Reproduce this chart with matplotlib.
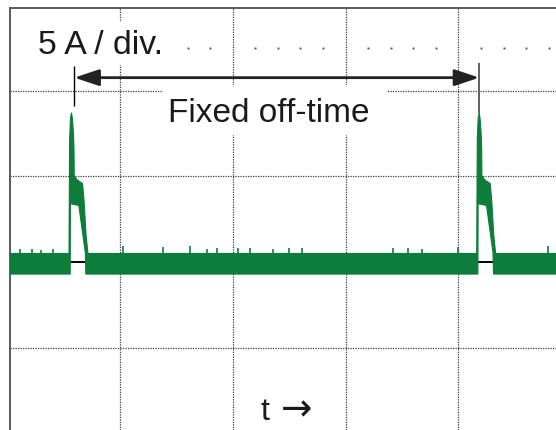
"""
Oscilloscope-style current trace: fixed off-time pulses, saved as out.png.
"""

import numpy as np
import matplotlib
matplotlib.use("Agg")
import matplotlib.pyplot as plt
import matplotlib.patches as mpatches

# ── data (time in divisions, current in A; 5 A / div) ─────────────────────────
pulse_starts = [0.548, 4.162]          # rising edge of each current pulse
base_hi = 0.5                           # top of the noise band on the baseline
base_lo = -0.7                          # bottom of the noise band

# outer edge of one pulse (offset from its start, current)
pulse_outer_dt = [0.0, 0.0053, 0.0133, 0.0222, 0.031, 0.040, 0.0443, 0.046,
                  0.071, 0.120, 0.133, 0.151, 0.168]
pulse_outer_i = [0.5, 7.14, 8.42, 8.71, 8.30, 7.43, 6.55, 5.04,
                 4.80, 4.57, 3.6, 1.6, 0.5]
# inner edge (the hollow part under the pulse)
pulse_inner_dt = [0.0106, 0.0124, 0.087, 0.1445, 0.149]
pulse_inner_i = [-0.7, 3.4, 3.3, 0.55, -0.7]

# small upward glitches on the baseline band
glitch_t = [0.113, 0.220, 0.300, 0.406, 1.027, 1.381, 1.621, 1.771, 1.860, 2.046,
            2.152, 2.356, 2.498, 2.613, 3.420, 3.553, 3.678, 3.997, 4.794]
glitch_i = [0.75, 0.75, 0.7, 0.75, 0.95, 0.9, 0.95, 0.75, 0.8, 0.8,
            0.8, 0.75, 0.8, 0.8, 0.8, 0.8, 0.75, 0.85, 0.95]

major_t = [1, 2, 3, 4]
major_i = [-5, 5, 10]

T_MIN, T_MAX = 0.0204, 4.865
I_MIN, I_MAX = -9.79, 14.84

GREEN = "#0e7c3a"
INK = "#1a1a1a"
GRID = "#3a3a3a"
W, H = 556, 430

fig = plt.figure(figsize=(W / 100, H / 100), dpi=100, facecolor="white")
ax = fig.add_axes([9.5 / W, 0, 1 - 9.5 / W, 1 - 7.5 / H])
ax.set_xlim(T_MIN, T_MAX)
ax.set_ylim(I_MIN, I_MAX)
ax.set_xticks([])
ax.set_yticks([])
for side in ["right", "bottom"]:
    ax.spines[side].set_visible(False)
for side in ["left", "top"]:
    ax.spines[side].set_color("#5a5a5a")
    ax.spines[side].set_linewidth(1.4)

# ── dotted graticule ──────────────────────────────────────────────────────────
for t in major_t:
    ax.axvline(t, color=GRID, lw=0.9, ls=(0, (1, 1)), zorder=1)
for i in major_i:
    ax.axhline(i, color=GRID, lw=0.9, ls=(0, (1, 1)), zorder=1)
minor_t = [k * 0.2 for k in range(1, 25) if k % 5]
ax.plot(minor_t, [12.5] * len(minor_t), "s", ms=1.4, color="#555555", mec="none", zorder=1)

# white boxes behind the labels
def px_rect(x0, y0, x1, y1):
    return mpatches.Rectangle((x0 / W, 1 - y1 / H), (x1 - x0) / W, (y1 - y0) / H,
                              transform=fig.transFigure, facecolor="white",
                              edgecolor="none", zorder=2)

ax.add_patch(px_rect(22, 22, 170, 65))
ax.add_patch(px_rect(163, 85, 387, 135))

# ── trace ─────────────────────────────────────────────────────────────────────
ax.axhline(0, color="black", lw=1.4, zorder=3)

upper_t, upper_i = [T_MIN - 0.1], [base_hi]
for t0 in pulse_starts:
    upper_t += [t0 + d for d in pulse_outer_dt]
    upper_i += pulse_outer_i
upper_t.append(T_MAX + 0.1)
upper_i.append(base_hi)

lower_t, lower_i = [T_MAX + 0.1], [base_lo]
for t0 in pulse_starts[::-1]:
    lower_t += [t0 + d for d in pulse_inner_dt[::-1]]
    lower_i += pulse_inner_i[::-1]
lower_t.append(T_MIN - 0.1)
lower_i.append(base_lo)

ax.fill(upper_t + lower_t, upper_i + lower_i, facecolor=GREEN, edgecolor=GREEN,
        lw=0.8, zorder=4)
ax.vlines(glitch_t, base_hi - 0.2, glitch_i, color=GREEN, lw=1.2, zorder=4)

# ── annotations ───────────────────────────────────────────────────────────────
mark_t = [0.595, 4.185]
ax.vlines(mark_t[0], 9.1, 11.45, color="black", lw=1.0, zorder=5)
ax.vlines(mark_t[1], 8.7, 11.6, color="#555555", lw=1.3, zorder=5)
ax.annotate("", xy=(mark_t[1], 10.75), xytext=(mark_t[0], 10.75),
            arrowprops=dict(arrowstyle="<|-|>,head_length=0.75,head_width=0.25",
                            mutation_scale=20, lw=2.0, color="#222222",
                            shrinkA=0, shrinkB=0), zorder=5)

fonts = ["Liberation Sans", "DejaVu Sans"]
ax.text(0.271, 12.15, "5 A / div.", fontsize=24.3, family=fonts, color=INK,
        va="baseline", ha="left", zorder=6)
ax.text(1.424, 8.15, "Fixed off-time", fontsize=24, family=fonts, color=INK,
        va="baseline", ha="left", zorder=6)
ax.text(2.248, -9.2, "t", fontsize=23, family=fonts, color=INK,
        va="baseline", ha="left", zorder=6)
ax.text(2.427, -9.25, "\u2192", fontsize=27, family="DejaVu Sans", color=INK,
        va="baseline", ha="left", zorder=6)

fig.savefig("out.png", dpi=100, facecolor="white")
